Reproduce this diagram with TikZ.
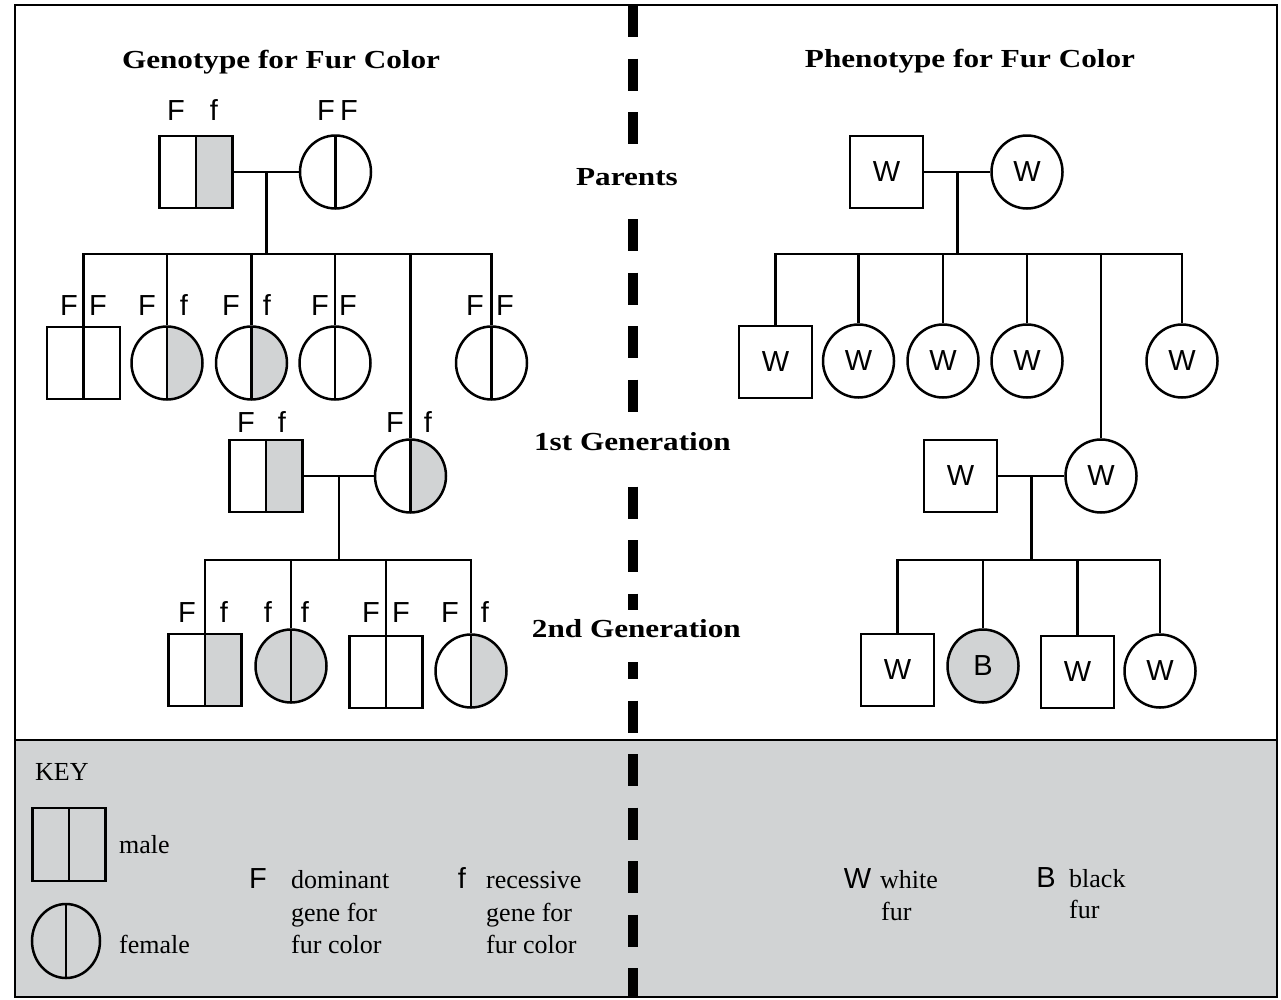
\documentclass[tikz,border=0pt]{standalone}
\usepackage{fontspec}
\setmainfont{Liberation Serif}
\newfontfamily\headfont{Liberation Serif}[FakeStretch=1.2]
\newfontfamily\labfont{Liberation Sans}
\usetikzlibrary{shapes.geometric,calc}
\definecolor{keygray}{HTML}{D1D3D4}
\tikzset{
  pen/.style={line width=2.5pt},
  symfont/.style={font=\labfont\fontsize{29}{34}\selectfont},
  male/.style={rectangle, draw, pen, minimum width=73pt, minimum height=72pt, inner sep=0pt, symfont},
  female/.style={ellipse, draw, pen, minimum width=71pt, minimum height=73pt, inner sep=0pt, symfont},
  split/.style={path picture={\draw[pen] (path picture bounding box.north) -- (path picture bounding box.south);}},
  rhalf/.style={path picture={\fill[keygray] (path picture bounding box.north) rectangle (path picture bounding box.south east);
      \draw[pen] (path picture bounding box.north) -- (path picture bounding box.south);}},
  full/.style={fill=keygray},
  allele/.style={symfont, inner sep=0pt, anchor=base},
  head/.style={font=\headfont\bfseries\fontsize{26}{31}\selectfont, inner sep=0pt, anchor=base},
  genlabel/.style={font=\headfont\bfseries\fontsize{26}{31}\selectfont, fill=white, inner xsep=3pt, inner ysep=0pt, text height=27pt, text depth=25pt, anchor=base east},
  keytext/.style={font=\fontsize{26}{33}\selectfont, inner sep=0pt, anchor=base west},
  keysym/.style={symfont, inner sep=0pt, anchor=base},
  link/.style={pen},
  divider/.style={line width=10pt, dash pattern=on 32pt off 21.5pt},
}
\begin{document}
\begin{tikzpicture}[x=1pt,y=-1pt]
\useasboundingbox (0,0) rectangle (1281,999);
\fill[white] (0,0) rectangle (1281,999);
% key panel
\fill[keygray] (15,740) rectangle (1277,997);
\draw[pen] (15,740) -- (1277,740);
\draw[pen] (15,5) rectangle (1277,997);
% dashed divider
\coordinate (dtop) at (633,5);
\coordinate (dbot) at (633,997);
\draw[divider] (dtop) -- (dbot);

% titles
\node[head] (tg) at (281,68) {Genotype for Fur Color};
\node[head] (tp) at (970,67) {Phenotype for Fur Color};
\node[genlabel] (lp) at (681,185) {Parents};
\node[genlabel] (l1) at (734,450) {1st Generation};
\node[genlabel] (l2) at (744,637) {2nd Generation};

% ---------- Genotype ----------
\coordinate (gs1) at (0,254);
\coordinate (gs2) at (0,560);
\node[male,rhalf] (gpm) at (196,172) {};
\node[female,split] (gpf) at (335.5,172) {};
\draw[link] (gpm.east) -- (gpf.west);
\coordinate (gpj) at ($(gpm.east)!0.5!(gpf.west)$);
\draw[link] (gpj) -- (gpj |- gs1);

\node[male,split] (gc1) at (83.5,363) {};
\node[female,rhalf] (gc2) at (167,363) {};
\node[female,rhalf] (gc3) at (251.5,363) {};
\node[female,split] (gc4) at (335,363) {};
\node[female,split] (gc6) at (491.5,363) {};
\node[male,rhalf] (g1m) at (266,476) {};
\node[female,rhalf] (g1f) at (410.5,476) {};
\draw[link] (gc1.north) -- (gc1.north |- gs1) -- (gc6.north |- gs1) -- (gc6.north);
\foreach \n in {gc2,gc3,gc4,g1f} \draw[link] (\n.north) -- (\n.north |- gs1);

\draw[link] (g1m.east) -- (g1f.west);
\coordinate (g1j) at ($(g1m.east)!0.5!(g1f.west)$);
\draw[link] (g1j) -- (g1j |- gs2);
\node[male,rhalf] (gd1) at (205,670) {};
\node[female,full,split] (gd2) at (291,666) {};
\node[male,split] (gd3) at (386,672) {};
\node[female,rhalf] (gd4) at (471,671) {};
\draw[link] (gd1.north) -- (gd1.north |- gs2) -- (gd4.north |- gs2) -- (gd4.north);
\foreach \n in {gd2,gd3} \draw[link] (\n.north) -- (\n.north |- gs2);

% allele labels
\node[allele] (a1) at (176,120) {F};
\node[allele] (a2) at (214,120) {f};
\node[allele] (a3) at (326,120) {F};
\node[allele] (a4) at (349,120) {F};
\node[allele] (a5) at (69,315) {F};
\node[allele] (a6) at (98,315) {F};
\node[allele] (a7) at (147,315) {F};
\node[allele] (a8) at (184,315) {f};
\node[allele] (a9) at (231,315) {F};
\node[allele] (a10) at (267,315) {f};
\node[allele] (a11) at (320,315) {F};
\node[allele] (a12) at (348,315) {F};
\node[allele] (a13) at (475,315) {F};
\node[allele] (a14) at (505,315) {F};
\node[allele] (a15) at (246,432) {F};
\node[allele] (a16) at (282,432) {f};
\node[allele] (a17) at (395,432) {F};
\node[allele] (a18) at (428,432) {f};
\node[allele] (a19) at (187,622) {F};
\node[allele] (a20) at (224,622) {f};
\node[allele] (a21) at (268,622) {f};
\node[allele] (a22) at (305,622) {f};
\node[allele] (a23) at (371,622) {F};
\node[allele] (a24) at (401,622) {F};
\node[allele] (a25) at (450,622) {F};
\node[allele] (a26) at (485,622) {f};

% ---------- Phenotype ----------
\coordinate (ps1) at (0,254);
\coordinate (ps2) at (0,560);
\node[male] (pm) at (886.5,172) {W};
\node[female] (pf) at (1027,172) {W};
\draw[link] (pm.east) -- (pf.west);
\coordinate (pj) at ($(pm.east)!0.5!(pf.west)$);
\draw[link] (pj) -- (pj |- ps1);

\node[male] (pc1) at (775.5,362) {W};
\node[female] (pc2) at (858.5,361) {W};
\node[female] (pc3) at (943,361) {W};
\node[female] (pc4) at (1027,361) {W};
\node[female] (pc6) at (1182,361) {W};
\node[male] (p1m) at (960.5,476) {W};
\node[female] (p1f) at (1101,476) {W};
\draw[link] (pc1.north) -- (pc1.north |- ps1) -- (pc6.north |- ps1) -- (pc6.north);
\foreach \n in {pc2,pc3,pc4,p1f} \draw[link] (\n.north) -- (\n.north |- ps1);

\draw[link] (p1m.east) -- (p1f.west);
\coordinate (p1j) at ($(p1m.east)!0.5!(p1f.west)$);
\draw[link] (p1j) -- (p1j |- ps2);
\node[male] (pd1) at (897.5,670) {W};
\node[female,full] (pd2) at (983,666) {B};
\node[male] (pd3) at (1077.5,672) {W};
\node[female] (pd4) at (1160,671) {W};
\draw[link] (pd1.north) -- (pd1.north |- ps2) -- (pd4.north |- ps2) -- (pd4.north);
\foreach \n in {pd2,pd3} \draw[link] (\n.north) -- (\n.north |- ps2);

% ---------- Key ----------
\node[keytext] (kt) at (35,780) {KEY};
\node[male,split,minimum height=73pt] (km) at (69,844.5) {};
\node[keytext] (kmt) at (119,853) {male};
\node[female,split,minimum width=68pt,minimum height=74pt] (kf) at (66,941) {};
\node[keytext] (kft) at (119,953) {female};

\node[keysym] (kF) at (258,888) {F};
\node[keytext] (kF1) at (291,888) {dominant};
\node[keytext] (kF2) at (291,921) {gene for};
\node[keytext] (kF3) at (291,953) {fur color};
\node[keysym] (kf0) at (462,888) {f};
\node[keytext] (kf1) at (486,888) {recessive};
\node[keytext] (kf2) at (486,921) {gene for};
\node[keytext] (kf3) at (486,953) {fur color};

\node[keysym] (kW) at (857.5,888) {W};
\node[keytext] (kW1) at (880,888) {white};
\node[keytext] (kW2) at (881,920) {fur};
\node[keysym] (kB) at (1046,887) {B};
\node[keytext] (kB1) at (1069,887) {black};
\node[keytext] (kB2) at (1069,918) {fur};
\end{tikzpicture}
\end{document}
